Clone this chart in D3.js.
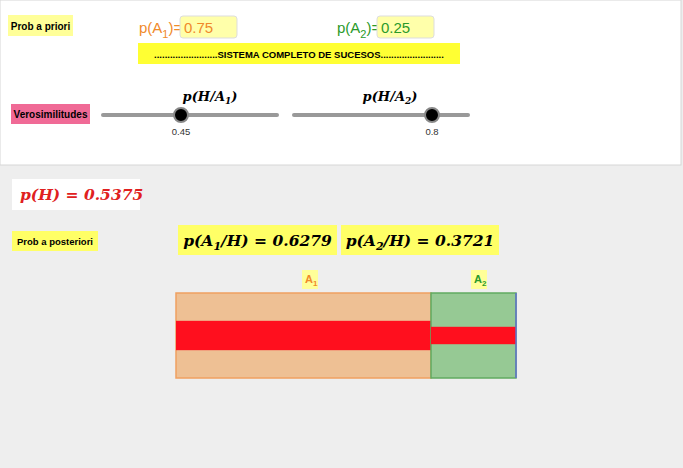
<!DOCTYPE html><html><head><meta charset="utf-8"><script src="https://cdn.jsdelivr.net/npm/d3@7"></script>
<style>body{margin:0}svg{font-family:"Liberation Sans",Arial,sans-serif}</style></head><body><svg id="c" width="683" height="468"></svg>
<script>
const events=["A1","A2"];
const priors=[0.75,0.25];
const likelihoods=[0.45,0.8];
const posteriors=[0.6279,0.3721];
const pH=0.5375;
const svg=d3.select("#c");
svg.append("rect").attr("width",683).attr("height",468).attr("fill","#eeeeee");
svg.append("rect").attr("x",0).attr("y",0).attr("width",681).attr("height",165).attr("fill","#fff").attr("stroke","#d6d6d6");
function box(x,y,w,h,fill,txt,fs,bold){svg.append("rect").attr("x",x).attr("y",y).attr("width",w).attr("height",h).attr("fill",fill);
 svg.append("text").attr("x",x+w/2).attr("y",y+h/2+4).attr("text-anchor","middle").attr("font-size",fs).attr("font-weight",bold?"bold":"normal").text(txt);}
box(8,15,65,21,"#ffff99","Prob a priori",10,true);
box(11,104,79,20,"#f06a96","Verosimilitudes",10,true);
box(138,43,322,21,"#ffff33","........................SISTEMA COMPLETO DE SUCESOS........................",9.5,true);
box(12,231,86,20,"#ffff66","Prob a posteriori",9.5,true);
const colA=["#f08a2a","#2a9a2a"];
[[139,180],[337,377]].forEach((p,i)=>{
 const t=svg.append("text").attr("x",p[0]).attr("y",33).attr("font-size",15).attr("fill",colA[i]);
 t.append("tspan").text("p(A");t.append("tspan").attr("font-size",11).attr("dy",5).text(i+1);t.append("tspan").attr("dy",-5).text(")=");
 svg.append("rect").attr("x",p[1]).attr("y",16).attr("width",57).attr("height",22).attr("rx",3).attr("fill","#ffffaa").attr("stroke","#ddd");
 svg.append("text").attr("x",p[1]+4).attr("y",33).attr("font-size",15).attr("fill",colA[i]).text(priors[i]);
});
const sl=[[103,277],[294,468]];
sl.forEach((s,i)=>{
 svg.append("line").attr("x1",s[0]).attr("x2",s[1]).attr("y1",115).attr("y2",115).attr("stroke","#999").attr("stroke-width",4).attr("stroke-linecap","round");
 const cx=[181,432][i];
 svg.append("circle").attr("cx",cx).attr("cy",115).attr("r",7).attr("fill","#000").attr("stroke","#888").attr("stroke-width",2);
 svg.append("text").attr("x",cx).attr("y",135).attr("text-anchor","middle").attr("font-size",9.5).attr("fill","#333").text(likelihoods[i]);
 const t=svg.append("text").attr("x",[210,390][i]).attr("y",101).attr("text-anchor","middle").attr("font-size",13).attr("font-family","DejaVu Serif").attr("font-style","italic").attr("font-weight","bold");
 t.append("tspan").text("p(H/A");t.append("tspan").attr("font-size",9).attr("dy",3).text(i+1);t.append("tspan").attr("dy",-3).text(")");
});
svg.append("rect").attr("x",12).attr("y",179).attr("width",128).attr("height",31).attr("fill","#fff");
svg.append("text").attr("x",20).attr("y",200).attr("font-size",15.5).attr("fill","#e02020").attr("font-family","DejaVu Serif").attr("font-style","italic").attr("font-weight","bold").text("p(H) = "+pH);
[[178,159],[341,158]].forEach((p,i)=>{
 svg.append("rect").attr("x",p[0]).attr("y",225).attr("width",p[1]).attr("height",30).attr("fill","#ffff66");
 const t=svg.append("text").attr("x",p[0]+p[1]/2).attr("y",246).attr("text-anchor","middle").attr("font-size",15.5).attr("font-family","DejaVu Serif").attr("font-style","italic").attr("font-weight","bold");
 t.append("tspan").text("p(A");t.append("tspan").attr("font-size",11).attr("dy",4).text(i+1);t.append("tspan").attr("dy",-4).text("/H) = "+posteriors[i]);
});
const x=d3.scaleLinear().domain([0,1]).range([176,516]);
const y=d3.scaleLinear().domain([0,1]).range([378,293]);
const fills=["#eec094","#96c994"],strokes=["#f0a060","#60aa60"];
let cum=0;
events.forEach((e,i)=>{
 const x0=x(cum),x1=x(cum+priors[i]);cum+=priors[i];
 svg.append("rect").attr("x",x0).attr("y",y(1)).attr("width",x1-x0).attr("height",y(0)-y(1)).attr("fill",fills[i]).attr("stroke",strokes[i]).attr("stroke-width",1.5);
 const h=posteriors[i]*0.55;
 svg.append("rect").attr("x",x0).attr("y",y(0.5+h/2)).attr("width",x1-x0).attr("height",y(0.5-h/2)-y(0.5+h/2)).attr("fill","#ff0f1e");
 const lx=[310,479][i];
 svg.append("rect").attr("x",lx-8).attr("y",270).attr("width",16).attr("height",19).attr("fill","#ffff99");
 const t=svg.append("text").attr("x",lx-5).attr("y",283).attr("font-size",11).attr("font-weight","bold").attr("fill",colA[i]);
 t.append("tspan").text("A");t.append("tspan").attr("font-size",8).attr("dy",3).text(i+1);
});
svg.append("line").attr("x1",516).attr("x2",516).attr("y1",293).attr("y2",378).attr("stroke","#6070d0").attr("stroke-width",1.5);
</script></body></html>
